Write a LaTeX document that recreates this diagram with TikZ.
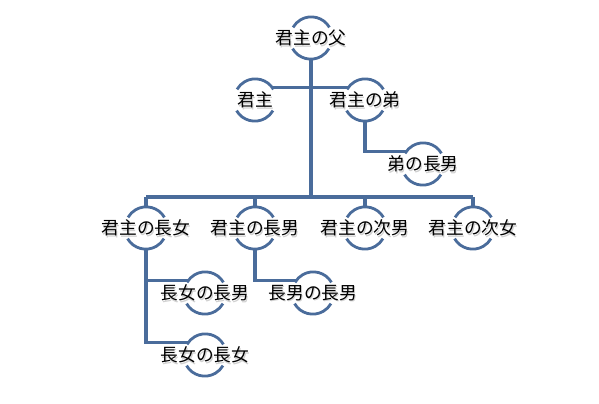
\documentclass[tikz,border=0pt]{standalone}
\usepackage{fontspec}
\newfontfamily\jpfont{Noto Sans CJK JP}
\definecolor{lineblue}{HTML}{4A6C9B}
\tikzset{
  px/.style={x=0.75pt,y=-0.75pt},
  ring/.style={circle,minimum size=31.5pt,inner sep=0pt,draw=none},
  conn/.style={draw=lineblue,line width=2.4pt},
  trunk/.style={draw=lineblue,line width=3.1pt},
  arcline/.style={draw=lineblue,line width=2.1pt},
  lbl/.style={font=\jpfont\fontsize{13.3pt}{15pt}\selectfont,text=black,inner sep=0pt},
  shd/.style={font=\jpfont\fontsize{13.3pt}{15pt}\selectfont,text=black!18,inner sep=0pt}
}
\newcommand{\ringnode}[3]{%
  \node[ring] (#1) at (#2) {};
  \draw[arcline] (#1.30) arc[start angle=30,end angle=150,radius=15.75pt];
  \draw[arcline] (#1.210) arc[start angle=210,end angle=330,radius=15.75pt];
  \node[shd,xshift=0.8pt,yshift=-1pt] (#1s) at (#1) {#3};
  \node[lbl] (#1t) at (#1) {#3};
}
\begin{document}
\begin{tikzpicture}[px]
\useasboundingbox (0,0) rectangle (599,403);
\fill[white] (0,0) rectangle (599,403);
\coordinate (bl) at (146,197);
\coordinate (br) at (473,197);
\ringnode{f}{311,38}{君主の父}
\ringnode{l}{255,100}{君主}
\ringnode{b}{365,100}{君主の弟}
\ringnode{bs}{423,164}{弟の長男}
\ringnode{c1}{146,228}{君主の長女}
\ringnode{c2}{255,228}{君主の長男}
\ringnode{c3}{365,228}{君主の次男}
\ringnode{c4}{473,228}{君主の次女}
\ringnode{g1}{205,293}{長女の長男}
\ringnode{g2}{205,355}{長女の長女}
\ringnode{g3}{313,293}{長男の長男}
\draw[trunk] (f.south) -- (f.south |- bl);
\draw[conn] (l.35) -- (b.145);
\draw[conn] (bl) -- (br);
\draw[conn] (b.south) |- (bs.145);
\draw[conn] (c1.north) -- (c1.north |- bl);
\draw[conn] (c2.north) -- (c2.north |- bl);
\draw[conn] (c3.north) -- (c3.north |- bl);
\draw[conn] (c4.north) -- (c4.north |- bl);
\draw[conn] (c1.south) |- (g1.145);
\draw[conn] (c1.south) |- (g2.145);
\draw[conn] (c2.south) |- (g3.145);
\end{tikzpicture}
\end{document}
